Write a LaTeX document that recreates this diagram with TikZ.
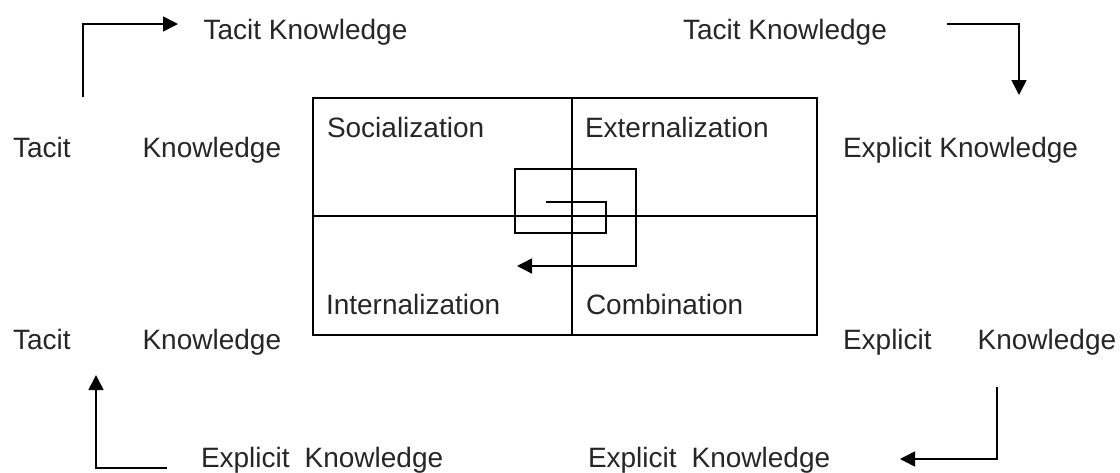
\documentclass[tikz,border=0pt]{standalone}
\usepackage{fontspec}
\setmainfont{Liberation Sans}
\usetikzlibrary{arrows.meta}
\tikzset{
  lbl/.style={anchor=base west, inner sep=0pt, outer sep=0pt, font=\fontsize{28}{32}\selectfont, text=black!85},
  flow/.style={line width=1.6pt, -{Triangle[length=15pt,width=15pt]}},
  grid/.style={line width=2pt},
  spiral/.style={line width=1.5pt, -{Triangle[length=15pt,width=15pt]}}
}
\begin{document}
\begin{tikzpicture}[x=1pt,y=-1pt]
\useasboundingbox (0,0) rectangle (1120,472);
% labels
\node[lbl] (tl) at (203.5,39) {Tacit Knowledge};
\node[lbl] (tr) at (683,39) {Tacit Knowledge};
\node[lbl] (lu) at (13,157) {Tacit\hspace{72pt}Knowledge};
\node[lbl] (ru) at (843,157) {Explicit Knowledge};
\node[lbl] (ll) at (13,349) {Tacit\hspace{72pt}Knowledge};
\node[lbl] (rl) at (843,349) {Explicit\hspace{46pt}Knowledge};
\node[lbl] (bl) at (201,467) {Explicit\hspace{15pt}Knowledge};
\node[lbl] (br) at (588,467) {Explicit\hspace{15pt}Knowledge};
% matrix box
\coordinate (b1) at (313,98);
\coordinate (b2) at (817,335);
\coordinate (vt) at (572,98);
\coordinate (vb) at (572,335);
\coordinate (hl) at (313,216);
\coordinate (hr) at (817,216);
\draw[grid] (b1) rectangle (b2);
\draw[grid] (vt) -- (vb);
\draw[grid] (hl) -- (hr);
\node[lbl] (soc) at (327,137) {Socialization};
\node[lbl] (ext) at (585,137) {Externalization};
\node[lbl] (int) at (326,314) {Internalization};
\node[lbl] (com) at (586,314) {Combination};
% spiral
\coordinate (s0) at (546,202);
\coordinate (s1) at (606,202);
\coordinate (s2) at (606,233);
\coordinate (s3) at (515,233);
\coordinate (s4) at (515,169);
\coordinate (s5) at (636,169);
\coordinate (s6) at (636,266);
\coordinate (s7) at (517,266);
\draw[spiral] (s0) -- (s1) -- (s2) -- (s3) -- (s4) -- (s5) -- (s6) -- (s7);
% outer arrows
\coordinate (a1s) at (83,97);
\coordinate (a1c) at (83,24);
\coordinate (a1e) at (178,24);
\draw[flow] (a1s) -- (a1c) -- (a1e);
\coordinate (a2s) at (947,24);
\coordinate (a2c) at (1019,24);
\coordinate (a2e) at (1019,95);
\draw[flow] (a2s) -- (a2c) -- (a2e);
\coordinate (a3s) at (997,387);
\coordinate (a3c) at (997,459);
\coordinate (a3e) at (900,459);
\draw[flow] (a3s) -- (a3c) -- (a3e);
\coordinate (a4s) at (167,468);
\coordinate (a4c) at (96,468);
\coordinate (a4e) at (96,375);
\draw[flow] (a4s) -- (a4c) -- (a4e);
\end{tikzpicture}
\end{document}
